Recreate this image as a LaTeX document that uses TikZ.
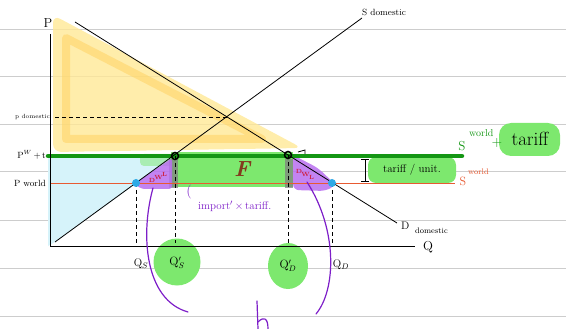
\documentclass[tikz,border=0pt]{standalone}
\usetikzlibrary{calc}
\definecolor{ruleg}{RGB}{205,205,205}
\definecolor{yel}{RGB}{255,232,150}
\definecolor{yeld}{RGB}{255,212,100}
\definecolor{gline}{RGB}{20,150,20}
\definecolor{ghl}{RGB}{125,232,110}
\definecolor{bluef}{RGB}{214,243,250}
\definecolor{bdot}{RGB}{45,170,230}
\definecolor{purf}{RGB}{185,110,240}
\definecolor{purl}{RGB}{125,30,200}
\definecolor{oran}{RGB}{232,90,50}
\definecolor{dwl}{RGB}{205,30,60}
\definecolor{brownf}{RGB}{130,60,30}
\tikzset{
  rule/.style={ruleg, line width=1pt},
  curve/.style={black, line width=0.8pt},
  axis/.style={black, line width=1pt},
  guide/.style={black, dashed, line width=0.8pt, dash pattern=on 4pt off 3pt},
  lbl/.style={inner sep=0pt, font=\fontsize{9}{10}\selectfont},
  dwltxt/.style={inner sep=0pt, text=dwl, font=\fontsize{6}{6}\selectfont\bfseries},
  opt/.style={circle, draw=black, line width=1.5pt, minimum size=7pt, inner sep=0pt},
  bpt/.style={circle, fill=bdot, minimum size=8pt, inner sep=0pt},
  pstroke/.style={purl, line width=1.2pt, line cap=round}
}
\begin{document}
\begin{tikzpicture}[x=1pt,y=-1pt]
\useasboundingbox (0,0) rectangle (566,329);
\foreach \yy in {30,77,125,172,220,268,316} \draw[rule] (0,\yy) -- (566,\yy);

% key points
\coordinate (O) at (50,246);
\coordinate (Ptop) at (50,34);
\coordinate (Qend) at (415,246);
\coordinate (Dtop) at (75,22);
\coordinate (Dend) at (397,223);
\coordinate (Sbot) at (55,242);
\coordinate (Send) at (362,18);
\coordinate (E) at (227,117);
\coordinate (As) at (175,156);
\coordinate (Ad) at (288,155);
\coordinate (Bs) at (136,183);
\coordinate (Bd) at (332,183);

% yellow consumer surplus
\fill[yel, opacity=0.8, rounded corners=8pt] (53,15) -- (302,148) -- (53,152) -- cycle;
\draw[yeld, opacity=0.55, line width=8pt, line join=round] (66,38) -- (262,139) -- (66,139) -- cycle;
% blue producer surplus
\fill[bluef] (48,157) -- (173,157) -- (55,242) -- (48,246) -- cycle;
% green tariff revenue
\fill[ghl] (171,152) rectangle (293,187);
\fill[ghl, opacity=0.5, rounded corners=4pt] (140,154) rectangle (175,166);
% grey strips
\fill[gray, opacity=0.75] (169,159) rectangle (178,188);
\fill[gray, opacity=0.75] (285,159) rectangle (293,188);
% purple DWL triangles
\fill[purf, opacity=0.85, rounded corners=3pt] (134,184) -- (172,158) -- (172,189) -- (142,189) -- cycle;
\fill[purf, opacity=0.85, rounded corners=6pt] (293,155) -- (318,168) -- (336,185) -- (326,191) -- (293,190) -- cycle;
\node[dwltxt] (dwlL1) at (152,180) {D};
\node[dwltxt] (dwlL2) at (158.5,177) {W};
\node[dwltxt] (dwlL3) at (164.5,174) {L};
\node[dwltxt] (dwlR1) at (299,171) {D};
\node[dwltxt] (dwlR2) at (305.5,174) {W};
\node[dwltxt] (dwlR3) at (311.5,177) {L};

% highlights for labels
\fill[ghl, rounded corners=8pt] (368,157) rectangle (456,183);
\fill[ghl, rounded corners=12pt] (499,123) rectangle (560,156);
\fill[ghl] (177,262) ellipse (23.5pt and 23.5pt);
\fill[ghl] (288,266) ellipse (20pt and 23pt);

% world price lines
\draw[oran, line width=0.8pt] (50,183) -- (455,183);
\draw[gline, line width=4.5pt, line cap=round] (48,156) -- (462,156);

% axes
\draw[axis] (Ptop) -- (O) -- (Qend);
% curves
\draw[curve] (Dtop) -- (Dend);
\draw[curve] (Sbot) -- (Send);
% guides
\draw[guide] (55,117) -- (E);
\draw[guide] (Bs) -- (136,243);
\draw[guide] (As) -- (175,243);
\draw[guide] (Ad) -- (288,243);
\draw[guide] (Bd) -- (332,243);

% points
\node[opt] (ns) at (As) {};
\node[opt] (nd) at (Ad) {};
\node[bpt] (ms) at (Bs) {};
\node[bpt] (md) at (Bd) {};
\draw[black, line width=0.8pt] (298,152) -- (305,150) -- (305,154);

% F
\node[inner sep=0pt, text=brownf, font=\fontsize{22}{22}\selectfont\bfseries\itshape] (F) at (242,169) {F};

% tariff per unit
\draw[black, line width=1pt] (361,160) -- (369,160) (365,160) -- (365,182) (361,182) -- (369,182);
\node[lbl, font=\fontsize{11}{12}\selectfont] (tpu) at (412,170) {tariff / unit.};

% labels
\node[lbl, font=\fontsize{13}{13}\selectfont] (Pl) at (48,23) {P};
\node[lbl, font=\fontsize{13}{13}\selectfont] (Ql) at (428,247) {Q};
\node[lbl, anchor=west] (Sdl) at (362,12) {S domestic};
\node[lbl, anchor=west, font=\fontsize{11}{12}\selectfont] (Ddl) at (401,226) {D};
\node[lbl, anchor=west, font=\fontsize{8}{9}\selectfont] (Dds) at (415,231) {domestic};
\node[lbl, anchor=east, font=\fontsize{6}{7}\selectfont] (pdl) at (50,117) {p domestic};
\node[lbl, anchor=east] (pwt) at (46,155) {P$^{W}$\,+\,t};
\node[lbl, anchor=east] (pwl) at (46,183) {P world};

\node[lbl, text=gline, font=\fontsize{13}{13}\selectfont] (Sw) at (462,146) {S};
\node[lbl, text=gline, anchor=west, font=\fontsize{10}{10}\selectfont] (Sws) at (469,133) {world};
\node[lbl, text=gline, font=\fontsize{14}{14}\selectfont] (plus) at (497,143) {+};
\node[lbl, font=\fontsize{19}{19}\selectfont] (tar) at (530,139) {tariff};
\node[lbl, text=oran, font=\fontsize{12}{12}\selectfont] (Sow) at (463,181) {S};
\node[lbl, text=oran, anchor=west, font=\fontsize{8}{8}\selectfont] (Sows) at (468,172) {world};

\node[lbl, font=\fontsize{11}{11}\selectfont] (Qs) at (141,264) {Q$_{S}$};
\node[lbl, font=\fontsize{12}{12}\selectfont] (Qsp) at (177,263) {Q$'_{S}$};
\node[lbl, font=\fontsize{12}{12}\selectfont] (Qdp) at (288,266) {Q$'_{D}$};
\node[lbl, font=\fontsize{11}{11}\selectfont] (Qd) at (341,265) {Q$_{D}$};

% purple annotations
\node[lbl, text=purl, font=\fontsize{14}{14}\selectfont] (par) at (189,192) {(};
\node[lbl, text=purl, anchor=west, font=\fontsize{11}{11}\selectfont] (imp) at (198,206) {import$'$\,$\times$\,tariff.};
\draw[pstroke] (153,188) .. controls (140,235) and (145,300) .. (188,312);
\draw[pstroke] (307,182) .. controls (338,230) and (336,290) .. (316,314);
\draw[pstroke] (257,301) -- (258,329);
\draw[pstroke] (258,322) .. controls (264,316) and (268,318) .. (268,329);
\end{tikzpicture}
\end{document}
